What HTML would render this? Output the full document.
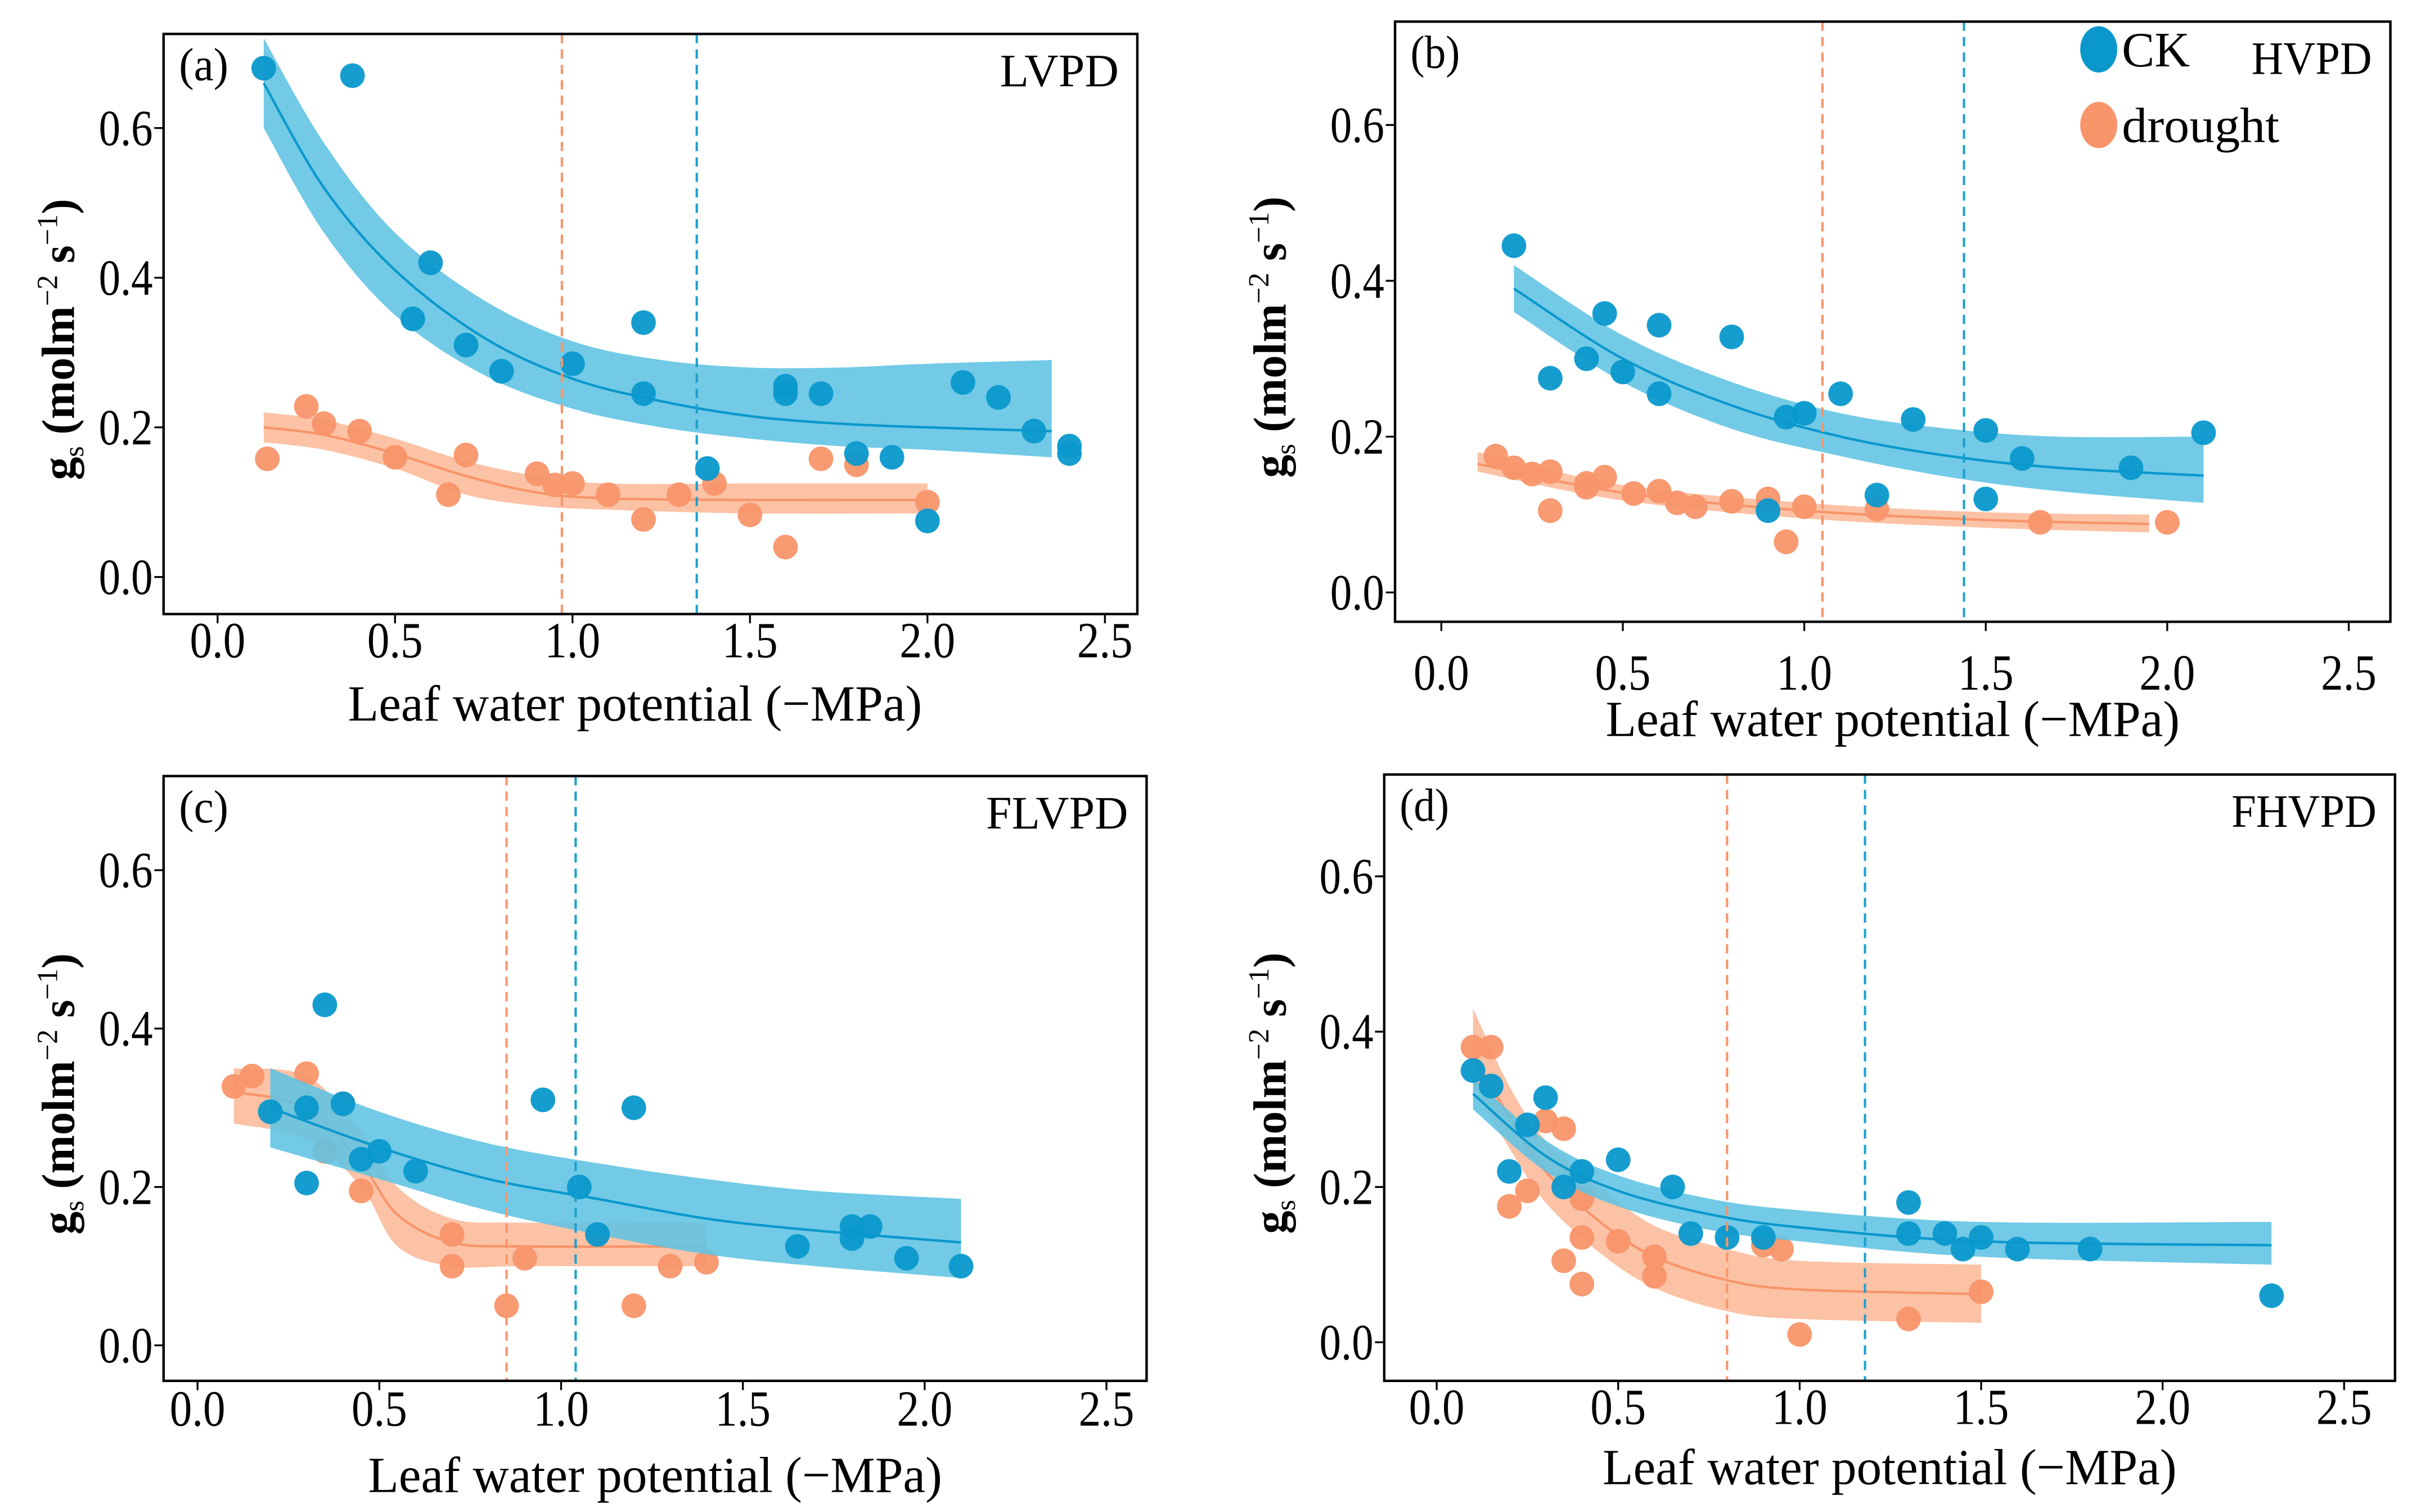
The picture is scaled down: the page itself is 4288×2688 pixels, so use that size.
<!DOCTYPE html>
<html><head><meta charset="utf-8"><style>
html,body{margin:0;padding:0;background:#fff}
svg{display:block}
text{font-family:"Liberation Serif",serif;fill:#000}
</style></head><body>
<svg id="fig" width="4288" height="2688" viewBox="0 0 1563 980" preserveAspectRatio="none" xmlns="http://www.w3.org/2000/svg"></svg>
<script>
// ---- data: panel (a) LVPD ----
const aCkX=[0.13,0.38,0.6,0.55,0.7,0.8,1.0,1.2,1.2,1.38,1.6,1.6,1.7,1.8,1.9,2.0,2.1,2.2,2.3,2.4,2.4];
const aCkY=[0.68,0.67,0.42,0.345,0.31,0.275,0.285,0.34,0.245,0.145,0.255,0.245,0.245,0.165,0.16,0.075,0.26,0.24,0.195,0.175,0.165];
const aDrX=[0.14,0.25,0.3,0.4,0.5,0.65,0.7,0.9,0.95,1.0,1.1,1.2,1.3,1.4,1.5,1.6,1.7,1.8,2.0];
const aDrY=[0.158,0.228,0.205,0.195,0.16,0.11,0.163,0.138,0.123,0.125,0.11,0.077,0.11,0.125,0.083,0.04,0.158,0.15,0.1];
const aCkFitX=[0.13,0.3,0.5,0.75,1.0,1.25,1.5,1.75,2.0,2.35];
const aCkFit=[0.66,0.52,0.41,0.32,0.265,0.235,0.215,0.205,0.2,0.195];
const aCkLo=[0.6,0.46,0.35,0.27,0.225,0.2,0.185,0.175,0.17,0.16];
const aCkHi=[0.72,0.58,0.46,0.37,0.315,0.29,0.28,0.28,0.285,0.29];
const aDrFitX=[0.13,0.3,0.5,0.7,0.9,1.1,1.5,2.0];
const aDrFit=[0.2,0.19,0.165,0.135,0.113,0.105,0.103,0.103];
const aDrLo=[0.18,0.17,0.145,0.11,0.095,0.09,0.085,0.085];
const aDrHi=[0.22,0.21,0.185,0.155,0.135,0.125,0.125,0.125];
const aVlines=[0.97,1.35];
// ---- panel (b) HVPD ----
const bCkX=[0.2,0.3,0.4,0.45,0.5,0.6,0.6,0.8,0.9,0.95,1.0,1.1,1.2,1.3,1.5,1.5,1.6,1.9,2.1];
const bCkY=[0.445,0.275,0.3,0.358,0.283,0.343,0.255,0.328,0.105,0.225,0.23,0.255,0.125,0.222,0.208,0.12,0.172,0.16,0.205];
const bDrX=[0.15,0.2,0.25,0.3,0.3,0.4,0.4,0.45,0.53,0.6,0.65,0.7,0.8,0.9,0.95,1.0,1.2,1.65,2.0];
const bDrY=[0.175,0.16,0.152,0.155,0.105,0.14,0.135,0.148,0.127,0.13,0.115,0.11,0.117,0.12,0.065,0.11,0.107,0.09,0.09];
const bCkFitX=[0.2,0.5,0.8,1.1,1.4,1.7,2.1];
const bCkFit=[0.39,0.3,0.24,0.2,0.175,0.16,0.15];
const bCkLo=[0.36,0.27,0.21,0.175,0.148,0.13,0.115];
const bCkHi=[0.42,0.33,0.27,0.23,0.21,0.2,0.2];
const bDrFitX=[0.1,0.5,1.0,1.5,1.95];
const bDrFit=[0.165,0.128,0.105,0.093,0.088];
const bDrLo=[0.155,0.118,0.095,0.083,0.077];
const bDrHi=[0.18,0.138,0.115,0.103,0.1];
const bVlines=[1.05,1.44];
// ---- panel (c) FLVPD ----
const cCkX=[0.2,0.3,0.3,0.35,0.4,0.45,0.5,0.6,0.95,1.05,1.1,1.2,1.65,1.8,1.8,1.85,1.95,2.1];
const cCkY=[0.295,0.3,0.205,0.43,0.305,0.235,0.245,0.22,0.31,0.2,0.14,0.3,0.125,0.15,0.135,0.15,0.11,0.1];
const cDrX=[0.1,0.15,0.3,0.3,0.35,0.4,0.45,0.45,0.7,0.7,0.85,0.9,1.1,1.2,1.3,1.4];
const cDrY=[0.327,0.34,0.343,0.3,0.245,0.305,0.195,0.235,0.14,0.1,0.05,0.11,0.14,0.05,0.1,0.105];
const cCkFitX=[0.2,0.5,0.8,1.1,1.4,1.7,2.1];
const cCkFit=[0.3,0.25,0.21,0.185,0.16,0.145,0.13];
const cCkLo=[0.25,0.21,0.17,0.14,0.115,0.1,0.085];
const cCkHi=[0.35,0.295,0.255,0.23,0.21,0.195,0.185];
const cDrFitX=[0.1,0.3,0.45,0.55,0.7,0.9,1.4];
const cDrFit=[0.32,0.3,0.23,0.165,0.13,0.125,0.125];
const cDrLo=[0.28,0.26,0.2,0.125,0.1,0.1,0.1];
const cDrHi=[0.35,0.34,0.27,0.2,0.16,0.155,0.155];
const cVlines=[0.85,1.04];
// ---- panel (d) FHVPD ----
const dCkX=[0.1,0.15,0.2,0.25,0.3,0.35,0.4,0.5,0.65,0.7,0.8,0.9,1.3,1.3,1.4,1.45,1.5,1.6,1.8,2.3];
const dCkY=[0.35,0.33,0.22,0.28,0.315,0.2,0.22,0.235,0.2,0.14,0.135,0.135,0.18,0.14,0.14,0.12,0.135,0.12,0.12,0.06];
const dDrX=[0.1,0.15,0.2,0.25,0.3,0.35,0.35,0.4,0.4,0.4,0.5,0.6,0.6,0.9,0.95,1.0,1.3,1.5];
const dDrY=[0.38,0.38,0.175,0.195,0.285,0.275,0.105,0.185,0.135,0.075,0.13,0.11,0.085,0.125,0.12,0.01,0.03,0.065];
const dCkFitX=[0.1,0.3,0.5,0.75,1.0,1.5,2.3];
const dCkFit=[0.32,0.24,0.195,0.165,0.148,0.13,0.125];
const dCkLo=[0.3,0.22,0.175,0.145,0.13,0.11,0.1];
const dCkHi=[0.34,0.26,0.215,0.185,0.17,0.155,0.155];
const dDrFitX=[0.1,0.2,0.3,0.45,0.6,0.8,1.0,1.5];
const dDrFit=[0.37,0.29,0.22,0.155,0.11,0.08,0.068,0.062];
const dDrLo=[0.33,0.25,0.18,0.115,0.07,0.04,0.03,0.025];
const dDrHi=[0.43,0.33,0.26,0.2,0.15,0.12,0.105,0.1];
const dVlines=[0.8,1.18];
const xTicks=["0.0","0.5","1.0","1.5","2.0","2.5"];
const yTicks=["0.0","0.2","0.4","0.6"];

const NS="http://www.w3.org/2000/svg";
const svg=document.getElementById('fig');
function el(tag,attrs,parent){const e=document.createElementNS(NS,tag);for(const k in attrs)e.setAttribute(k,attrs[k]);(parent||svg).appendChild(e);return e;}
const CK="#0a98cc",CKB="#5ec3e2",DR="#f8956a",DRB="#fbb795";

// Catmull-Rom smoothing through point list; returns segment commands (without initial M)
function smooth(P,start){
 let d=start?'M'+P[0][0]+','+P[0][1]:'L'+P[0][0]+','+P[0][1];
 for(let i=0;i<P.length-1;i++){
  const p0=P[i-1]||P[i],p1=P[i],p2=P[i+1],p3=P[i+2]||P[i+1];
  const c1=[p1[0]+(p2[0]-p0[0])/6,p1[1]+(p2[1]-p0[1])/6];
  const c2=[p2[0]-(p3[0]-p1[0])/6,p2[1]-(p3[1]-p1[1])/6];
  d+='C'+c1[0]+','+c1[1]+' '+c2[0]+','+c2[1]+' '+p2[0]+','+p2[1];
 }
 return d;
}

const panels=[
 {id:'a',tag:'(a)',name:'LVPD',box:[106,22,737,398],x0:141,x25:716,y0:374,y6:83,xtl:426,xt:467,ytx:48,
  ck:[aCkX,aCkY],dr:[aDrX,aDrY],ckf:[aCkFitX,aCkFit,aCkLo,aCkHi],drf:[aDrFitX,aDrFit,aDrLo,aDrHi],vl:aVlines},
 {id:'b',tag:'(b)',name:'HVPD',box:[904,14,1549,403],x0:934,x25:1522,y0:384,y6:81,xtl:447,xt:477,ytx:833,
  ck:[bCkX,bCkY],dr:[bDrX,bDrY],ckf:[bCkFitX,bCkFit,bCkLo,bCkHi],drf:[bDrFitX,bDrFit,bDrLo,bDrHi],vl:bVlines},
 {id:'c',tag:'(c)',name:'FLVPD',box:[106,503,743,895],x0:128,x25:717,y0:872,y6:564,xtl:924,xt:967,ytx:48,
  ck:[cCkX,cCkY],dr:[cDrX,cDrY],ckf:[cCkFitX,cCkFit,cCkLo,cCkHi],drf:[cDrFitX,cDrFit,cDrLo,cDrHi],vl:cVlines},
 {id:'d',tag:'(d)',name:'FHVPD',box:[897,502,1552,895],x0:931,x25:1519,y0:870,y6:568,xtl:923,xt:962,ytx:833,
  ck:[dCkX,dCkY],dr:[dDrX,dDrY],ckf:[dCkFitX,dCkFit,dCkLo,dCkHi],drf:[dDrFitX,dDrFit,dDrLo,dDrHi],vl:dVlines}
];

panels.forEach(p=>{
 const g=el('g',{});
 
 
 const sx=v=>p.x0+(p.x25-p.x0)*v/2.5;
 const sy=v=>p.y0-(p.y0-p.y6)*v/0.6;
 const [L,T,R,B]=p.box;
 function band(f,fill,stroke,nm,op){
  const hi=f[0].map((x,i)=>[sx(x),sy(f[3][i])]);
  const lo=f[0].map((x,i)=>[sx(x),sy(f[2][i])]).reverse();
  const d=smooth(hi,true)+smooth(lo,false)+'Z';
  const b=el('path',{d:d,fill:fill,'fill-opacity':op},g);
  
  
  const mid=f[0].map((x,i)=>[sx(x),sy(f[1][i])]);
  const l=el('path',{d:smooth(mid,true),fill:'none',stroke:stroke,'stroke-width':1.6},g);
  
  
 }
 function pts(s,fill,nm){
  s[0].forEach((x,i)=>{
   const c=el('circle',{cx:sx(x),cy:sy(s[1][i]),r:8,fill:fill,'fill-opacity':0.95},g);
   
   
  });
 }
 band(p.drf,DRB,DR,'drought',0.85);
 pts(p.dr,DR,'drought');
 band(p.ckf,CKB,CK,'ck',0.88);
 pts(p.ck,CK,'ck');
 p.vl.forEach((v,i)=>{
  const ln=el('line',{x1:sx(v),x2:sx(v),y1:T,y2:B,stroke:i?'#1aa0d0':'#f8956a','stroke-width':1.5,'stroke-dasharray':'6,4'},g);
  
  
 });
 const bx=el('rect',{x:L,y:T,width:R-L,height:B-T,fill:'none',stroke:'#000','stroke-width':1.6},g);
 
 
 xTicks.forEach(t=>{
  const x=sx(parseFloat(t));
  el('line',{x1:x,x2:x,y1:B,y2:B+6,stroke:'#000','stroke-width':1.2},g);
  const tx=el('text',{x:x,y:p.xtl,'font-size':33,'text-anchor':'middle',textLength:36,lengthAdjust:'spacingAndGlyphs'},g);
  tx.textContent=t;
  
  
 });
 yTicks.forEach(t=>{
  const y=sy(parseFloat(t));
  el('line',{x1:L-6,x2:L,y1:y,y2:y,stroke:'#000','stroke-width':1.2},g);
  const tx=el('text',{x:L-7,y:y+11,'font-size':33,'text-anchor':'end',textLength:35,lengthAdjust:'spacingAndGlyphs'},g);
  tx.textContent=t;
  
  
 });
 const xt=el('text',{x:(L+R)/2+(p.id==='a'?-10:0),y:p.xt,'font-size':33,'text-anchor':'middle',textLength:372,lengthAdjust:'spacingAndGlyphs'},g);
 xt.textContent='Leaf water potential (\u2212MPa)';
 
 
 const cy=(T+B)/2+10;
 const yt=el('text',{x:0,y:0,'font-size':30,'text-anchor':'middle',transform:'translate('+p.ytx+','+cy+') rotate(-90)'},g);
 yt.innerHTML='<tspan font-weight="bold">g</tspan><tspan font-size="18" dy="6">s</tspan><tspan dy="-6" font-weight="bold"> (molm</tspan><tspan font-size="19" dy="-11">\u22122</tspan><tspan dy="11" font-weight="bold"> s</tspan><tspan font-size="19" dy="-11">\u22121</tspan><tspan dy="11" font-weight="bold">)</tspan>';
 
 
 const pt=el('text',{x:L+10,y:T+30,'font-size':30,textLength:32,lengthAdjust:'spacingAndGlyphs'},g);
 pt.textContent=p.tag;
 
 
 const nmw={LVPD:77,HVPD:78,FLVPD:92,FHVPD:94}[p.name];
 const nm=el('text',{x:R-12,y:T+34,'font-size':30,'text-anchor':'end',textLength:nmw,lengthAdjust:'spacingAndGlyphs'},g);
 nm.textContent=p.name;
 
 
});
// legend in panel b
const lg=el('g',{});


[[CK,'CK',32,44],[DR,'drought',81,102]].forEach(([c,t,y,w])=>{
 const ci=el('ellipse',{cx:1360,cy:y,rx:12,ry:15,fill:c},lg);
 
 
 const tx=el('text',{x:1375,y:y+11,'font-size':32,textLength:w,lengthAdjust:'spacingAndGlyphs'},lg);
 tx.textContent=t;
 
 
});
</script>
</body></html>
